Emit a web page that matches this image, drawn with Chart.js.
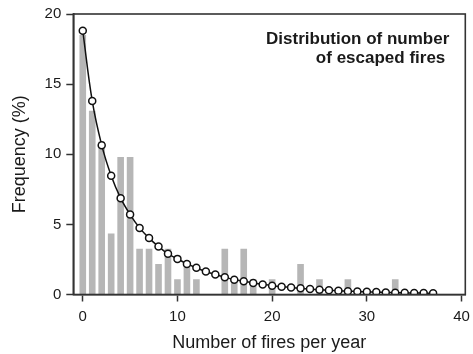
<!DOCTYPE html>
<html>
<head>
<meta charset="utf-8">
<script src="https://cdn.jsdelivr.net/npm/chart.js@4/dist/chart.umd.min.js"></script>
<style>
  html, body { margin: 0; padding: 0; background: #fff; }
  #wrap { width: 473px; height: 354px; }
</style>
</head>
<body>
<div id="wrap"><canvas id="chart"></canvas></div>
<script>
// --- Datos ---
// Histograma: frecuencia observada (%) por numero de incendios (0..33)
const fireCounts = [0, 1, 2, 3, 4, 5, 6, 7, 8, 9, 10, 11, 12, 13, 14, 15, 16,
  17, 18, 19, 20, 21, 22, 23, 24, 25, 26, 27, 28, 29, 30, 31, 32, 33];
const observedFreq = [18.5, 13.1, 10.9, 4.35, 9.8, 9.8, 3.26, 3.26, 2.17, 3.26,
  1.09, 2.17, 1.09, 0, 0, 3.26, 1.09, 3.26, 1.09, 0, 1.09, 0, 0, 2.17, 0, 1.09,
  0, 0, 1.09, 0, 0, 0, 0, 1.09];

// Curva ajustada (0..37)
const fitCounts = [0, 1, 2, 3, 4, 5, 6, 7, 8, 9, 10, 11, 12, 13, 14, 15, 16,
  17, 18, 19, 20, 21, 22, 23, 24, 25, 26, 27, 28, 29, 30, 31, 32, 33, 34, 35, 36, 37];
const fittedFreq = [18.8, 13.8, 10.65, 8.47, 6.87, 5.7, 4.75, 4.02, 3.42, 2.9,
  2.54, 2.18, 1.9, 1.64, 1.42, 1.23, 1.06, 0.95, 0.82, 0.72, 0.63, 0.56, 0.5,
  0.44, 0.39, 0.34, 0.3, 0.27, 0.24, 0.21, 0.19, 0.17, 0.15, 0.13, 0.12, 0.11,
  0.1, 0.09];

// Marcas de los ejes
const xTickValues = [0, 10, 20, 30, 40];
const yTickValues = [0, 5, 10, 15, 20];

const titleLines = ['Distribution of number', 'of escaped fires'];

// --- Estilos comunes ---
const FONT = "'Liberation Sans', Arial, Helvetica, sans-serif";
const AXIS_COLOR = '#333333';
const TEXT_COLOR = '#1a1a1a';

// Marco alrededor del area del grafico + texto del recuadro
const frameAndLabel = {
  id: 'frameAndLabel',
  afterDraw(chart) {
    const { ctx, chartArea: a } = chart;
    ctx.save();
    ctx.strokeStyle = AXIS_COLOR;
    ctx.lineWidth = 1.6;
    ctx.strokeRect(a.left, a.top, a.right - a.left, a.bottom - a.top);

    ctx.fillStyle = TEXT_COLOR;
    ctx.font = 'bold 17px ' + FONT;
    ctx.textAlign = 'right';
    ctx.textBaseline = 'middle';
    ctx.fillText(titleLines[0], a.right - 16, a.top + 25);
    ctx.fillText(titleLines[1], a.right - 20, a.top + 44);
    ctx.restore();
  }
};

const ctx = document.getElementById('chart').getContext('2d');

new Chart(ctx, {
  type: 'bar',
  data: {
    datasets: [
      {
        type: 'line',
        label: 'Fitted',
        data: fitCounts.map((x, i) => ({ x, y: fittedFreq[i] })),
        borderColor: '#111111',
        borderWidth: 1.5,
        tension: 0.4,
        pointRadius: 3.5,
        pointBorderWidth: 1.5,
        pointBackgroundColor: '#ffffff',
        pointBorderColor: '#111111',
        order: 1
      },
      {
        type: 'bar',
        label: 'Observed',
        data: fireCounts.map((x, i) => ({ x, y: observedFreq[i] })),
        backgroundColor: '#b6b6b6',
        borderWidth: 0,
        barPercentage: 0.7,
        categoryPercentage: 1,
        order: 2
      }
    ]
  },
  options: {
    responsive: true,
    maintainAspectRatio: false,
    animation: false,
    layout: { padding: { top: 13, right: 0, left: 0, bottom: 0 } },
    plugins: {
      legend: { display: false },
      tooltip: { enabled: false }
    },
    scales: {
      x: {
        type: 'linear',
        min: -1,
        max: 40.4,
        offset: false,
        afterBuildTicks: (scale) => { scale.ticks = xTickValues.map(v => ({ value: v })); },
        afterFit: (scale) => {
          scale.height = 59.5;
          scale.paddingLeft = 0;
          scale.paddingRight = 7.7;
        },
        grid: {
          offset: false,
          drawOnChartArea: false,
          drawTicks: true,
          tickLength: 7,
          tickColor: AXIS_COLOR,
          tickWidth: 1.5
        },
        border: { display: true, color: AXIS_COLOR, width: 1.6 },
        ticks: {
          color: TEXT_COLOR,
          font: { family: FONT, size: 15 },
          padding: 6,
          maxRotation: 0
        },
        title: {
          display: true,
          text: 'Number of fires per year',
          color: TEXT_COLOR,
          font: { family: FONT, size: 18 },
          padding: { top: 0, bottom: 0 }
        }
      },
      y: {
        type: 'linear',
        min: 0,
        max: 20,
        afterBuildTicks: (scale) => { scale.ticks = yTickValues.map(v => ({ value: v })); },
        afterFit: (scale) => { scale.width = 73.3; },
        grid: {
          drawOnChartArea: false,
          drawTicks: true,
          tickLength: 7,
          tickColor: AXIS_COLOR,
          tickWidth: 1.5
        },
        border: { display: true, color: AXIS_COLOR, width: 1.6 },
        ticks: {
          color: TEXT_COLOR,
          font: { family: FONT, size: 15 },
          padding: 5
        },
        title: {
          display: true,
          text: 'Frequency (%)',
          color: TEXT_COLOR,
          font: { family: FONT, size: 18 },
          padding: { top: 9, bottom: 0 }
        }
      }
    }
  },
  plugins: [frameAndLabel]
});
</script>
</body>
</html>
